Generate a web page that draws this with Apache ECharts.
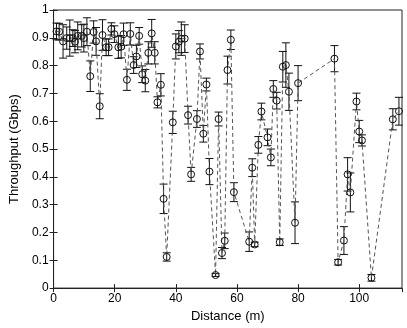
<!DOCTYPE html>
<html>
<head>
<meta charset="utf-8">
<script src="https://cdn.jsdelivr.net/npm/echarts@6/dist/echarts.min.js"></script>
<style>
html,body{margin:0;padding:0;background:#fff;}
#chart{width:407px;height:328px;}
</style>
</head>
<body>
<div id="chart"></div>
<script>
const distance = [0.95,1.8,3.1,4.3,5.3,6.3,7.0,7.9,9.2,9.9,10.9,12.0,13.1,13.9,15.1,16.0,17.2,18.0,18.9,19.9,21.2,22.1,22.9,24.0,25.1,26.2,27.1,28.0,29.0,30.0,31.0,32.1,33.1,34.0,35.1,36.0,37.0,39.0,40.0,41.0,41.8,42.9,44.0,45.0,46.9,47.9,49.0,50.0,51.0,53.0,54.0,55.1,56.0,56.9,58.0,59.0,64.0,65.0,65.8,67.0,68.0,70.0,71.1,71.9,73.0,74.0,75.0,76.0,77.0,79.0,80.0,91.9,93.1,95.0,96.2,97.1,99.1,100.0,100.9,104.0,111.0,113.0];
const throughput = [0.923,0.922,0.887,0.899,0.899,0.899,0.886,0.907,0.907,0.899,0.922,0.762,0.921,0.887,0.654,0.910,0.866,0.866,0.932,0.913,0.866,0.868,0.913,0.749,0.914,0.802,0.833,0.907,0.769,0.746,0.846,0.916,0.846,0.668,0.731,0.321,0.112,0.596,0.869,0.886,0.897,0.897,0.622,0.409,0.608,0.851,0.555,0.732,0.419,0.047,0.608,0.126,0.170,0.784,0.893,0.345,0.167,0.433,0.157,0.515,0.635,0.542,0.470,0.716,0.674,0.165,0.796,0.802,0.706,0.235,0.737,0.825,0.093,0.171,0.409,0.344,0.671,0.563,0.531,0.037,0.607,0.636];
const errorSize = [0.03,0.03,0.06,0.04,0.065,0.03,0.04,0.05,0.04,0.05,0.05,0.055,0.04,0.05,0.045,0.055,0.03,0.03,0.022,0.03,0.04,0.04,0.04,0.038,0.04,0.03,0.04,0.03,0.03,0.04,0.04,0.05,0.04,0.02,0.04,0.053,0.015,0.04,0.045,0.04,0.06,0.05,0.032,0.025,0.03,0.027,0.03,0.023,0.047,0.005,0.025,0.02,0.028,0.05,0.035,0.034,0.035,0.032,0.008,0.03,0.03,0.03,0.03,0.03,0.03,0.012,0.055,0.08,0.067,0.075,0.063,0.047,0.01,0.05,0.06,0.07,0.03,0.04,0.02,0.012,0.038,0.05];
const xTicks = [0,20,40,60,80,100];
const yTicks = [0,0.1,0.2,0.3,0.4,0.5,0.6,0.7,0.8,0.9,1];

const pts = distance.map((d,i)=>[d, throughput[i]]);
const bars = distance.map((d,i)=>[d, throughput[i]-errorSize[i], throughput[i]+errorSize[i]]);

const font = 'Liberation Sans, Arial, Helvetica, sans-serif';
const axisCommon = {
  axisLine:{show:true, lineStyle:{color:'#222', width:1}},
  axisTick:{show:true, inside:true, length:4, lineStyle:{color:'#222'}},
  splitLine:{show:false}
};
const chart = echarts.init(document.getElementById('chart'), null, {renderer:'canvas'});
chart.setOption({
  animation:false,
  backgroundColor:'#fff',
  grid:{left:41, right:5, top:10, bottom:32, show:true, borderColor:'#222', borderWidth:1},
  xAxis:[{
    type:'value', min:0, max:114, interval:20, position:'bottom',
    name:'Distance (m)', nameLocation:'middle', nameGap:14,
    nameTextStyle:{fontFamily:font, fontSize:13, color:'#000'},
    axisLabel:{fontFamily:font, fontSize:12, color:'#000', margin:5, showMaxLabel:false,
      formatter:v=> xTicks.indexOf(v)>=0 ? String(v) : ''},
    ...axisCommon
  },{
    type:'value', min:0, max:114, interval:20, position:'top',
    axisLabel:{show:false}, ...axisCommon
  }],
  yAxis:[{
    type:'value', min:0, max:1, interval:0.1,
    name:'Throughput (Gbps)', nameLocation:'middle', nameGap:26,
    nameTextStyle:{fontFamily:font, fontSize:13, color:'#000'},
    axisLabel:{fontFamily:font, fontSize:12, color:'#000', margin:5,
      formatter:v=>{ const r=Math.round(v*10)/10; return yTicks.indexOf(r)>=0 ? String(r) : ''; }},
    ...axisCommon
  },{
    type:'value', min:0, max:1, interval:0.1, position:'right',
    axisLabel:{show:false}, ...axisCommon
  }],
  series:[{
    type:'custom',
    data:bars,
    z:3,
    renderItem:function(params, api){
      const x = api.value(0), lo = api.value(1), hi = api.value(2);
      const a = api.coord([x, hi]), b = api.coord([x, lo]);
      const w = 4;
      const st = {stroke:'#111', lineWidth:1};
      return {type:'group', children:[
        {type:'line', shape:{x1:a[0], y1:a[1], x2:b[0], y2:b[1]}, style:st},
        {type:'line', shape:{x1:a[0]-w, y1:a[1], x2:a[0]+w, y2:a[1]}, style:st},
        {type:'line', shape:{x1:b[0]-w, y1:b[1], x2:b[0]+w, y2:b[1]}, style:st}
      ]};
    }
  },{
    type:'line',
    data:pts,
    z:4,
    symbol:'circle',
    symbolSize:7,
    itemStyle:{color:'transparent', borderColor:'#111', borderWidth:1},
    lineStyle:{color:'#555', width:1, type:[4,3]}
  }]
});
</script>
</body>
</html>
